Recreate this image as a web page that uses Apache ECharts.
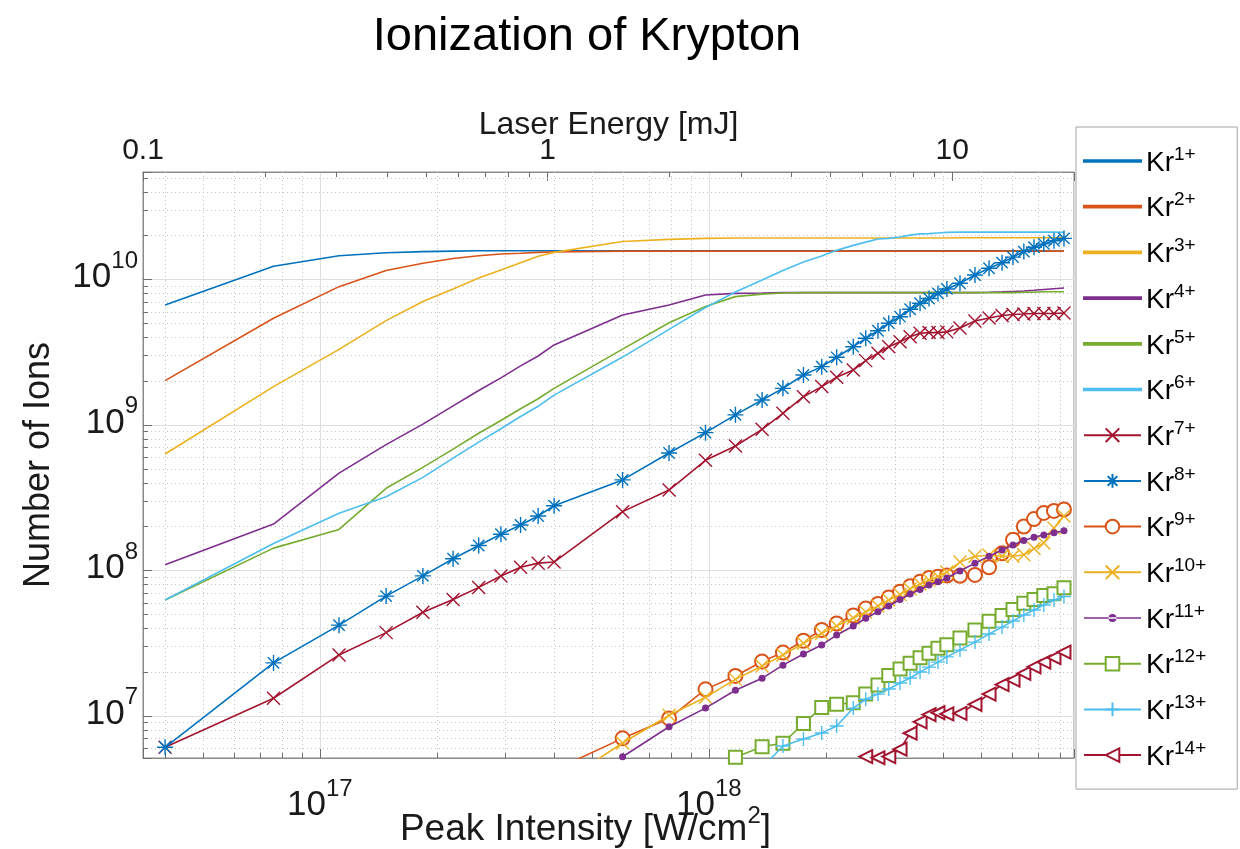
<!DOCTYPE html>
<html>
<head>
<meta charset="utf-8">
<title>Ionization of Krypton</title>
<script src="https://cdn.jsdelivr.net/npm/echarts@6/dist/echarts.min.js"></script>
<style>
  html, body { margin: 0; padding: 0; background: #fff; }
  #chart { width: 1240px; height: 849px; }
</style>
</head>
<body>
<div id="chart"></div>
<script>
// Peak intensity of each laser shot [W/cm^2]
const intensity = [
  4.0e16, 7.6e16, 1.12e17, 1.48e17, 1.84e17, 2.2e17, 2.56e17, 2.92e17, 3.28e17, 3.64e17,
  4.0e17, 6.0e17, 7.9e17, 9.8e17, 1.17e18, 1.37e18, 1.55e18, 1.75e18, 1.95e18, 2.13e18,
  2.35e18, 2.53e18, 2.72e18, 2.9e18, 3.1e18, 3.29e18, 3.49e18, 3.68e18, 3.88e18, 4.09e18,
  4.42e18, 4.83e18, 5.25e18, 5.67e18, 6.05e18, 6.45e18, 6.85e18, 7.26e18, 7.71e18, 8.18e18
];

// Ion yields per charge state (null = no ions counted)
const kr1 = [
  6.66e9, 1.23e10, 1.45e10, 1.52e10, 1.55e10, 1.56e10, 1.57e10, 1.57e10, 1.57e10, 1.57e10,
  1.57e10, 1.57e10, 1.57e10, 1.57e10, 1.57e10, 1.57e10, 1.57e10, 1.57e10, 1.57e10, 1.57e10,
  1.57e10, 1.57e10, 1.57e10, 1.57e10, 1.57e10, 1.57e10, 1.57e10, 1.57e10, 1.57e10, 1.57e10,
  1.57e10, 1.57e10, 1.57e10, 1.57e10, 1.57e10, 1.57e10, 1.57e10, 1.57e10, 1.56e10, 1.56e10
];
const kr2 = [
  2.01e9, 5.4e9, 8.9e9, 1.15e10, 1.29e10, 1.39e10, 1.45e10, 1.49e10, 1.51e10, 1.53e10,
  1.54e10, 1.56e10, 1.56e10, 1.56e10, 1.56e10, 1.56e10, 1.56e10, 1.56e10, 1.56e10, 1.56e10,
  1.56e10, 1.56e10, 1.56e10, 1.56e10, 1.56e10, 1.56e10, 1.56e10, 1.56e10, 1.56e10, 1.56e10,
  1.56e10, 1.56e10, 1.56e10, 1.56e10, 1.56e10, 1.56e10, 1.56e10, 1.56e10, 1.56e10, 1.56e10
];
const kr3 = [
  6.3e8, 1.83e9, 3.3e9, 5.2e9, 7.04e9, 8.58e9, 1.02e10, 1.16e10, 1.3e10, 1.44e10,
  1.53e10, 1.82e10, 1.88e10, 1.91e10, 1.92e10, 1.92e10, 1.92e10, 1.92e10, 1.92e10, 1.92e10,
  1.92e10, 1.92e10, 1.92e10, 1.92e10, 1.92e10, 1.92e10, 1.92e10, 1.92e10, 1.92e10, 1.92e10,
  1.93e10, 1.93e10, 1.93e10, 1.93e10, 1.93e10, 1.93e10, 1.93e10, 1.93e10, 1.93e10, 1.93e10
];
const kr4 = [
  1.09e8, 2.08e8, 4.65e8, 7.3e8, 1.01e9, 1.35e9, 1.72e9, 2.1e9, 2.54e9, 2.97e9,
  3.54e9, 5.68e9, 6.66e9, 7.8e9, 8.0e9, 8.05e9, 8.1e9, 8.1e9, 8.1e9, 8.1e9,
  8.1e9, 8.1e9, 8.1e9, 8.1e9, 8.1e9, 8.1e9, 8.1e9, 8.1e9, 8.1e9, 8.1e9,
  8.1e9, 8.1e9, 8.15e9, 8.2e9, 8.25e9, 8.3e9, 8.4e9, 8.5e9, 8.6e9, 8.7e9
];
const kr5 = [
  6.25e7, 1.42e8, 1.91e8, 3.66e8, 5.1e8, 6.8e8, 8.75e8, 1.07e9, 1.29e9, 1.51e9,
  1.78e9, 3.31e9, 5.03e9, 6.5e9, 7.6e9, 7.9e9, 8.05e9, 8.1e9, 8.1e9, 8.1e9,
  8.1e9, 8.1e9, 8.1e9, 8.1e9, 8.1e9, 8.1e9, 8.1e9, 8.1e9, 8.1e9, 8.1e9,
  8.1e9, 8.1e9, 8.1e9, 8.1e9, 8.1e9, 8.15e9, 8.15e9, 8.2e9, 8.2e9, 8.2e9
];
const kr6 = [
  6.25e7, 1.53e8, 2.47e8, 3.2e8, 4.35e8, 5.9e8, 7.6e8, 9.4e8, 1.14e9, 1.34e9,
  1.6e9, 2.92e9, 4.53e9, 6.4e9, 8.18e9, 9.89e9, 1.15e10, 1.315e10, 1.445e10, 1.58e10,
  1.71e10, 1.8e10, 1.89e10, 1.91e10, 1.95e10, 2.01e10, 2.05e10, 2.06e10, 2.08e10, 2.1e10,
  2.11e10, 2.11e10, 2.11e10, 2.11e10, 2.11e10, 2.11e10, 2.11e10, 2.11e10, 2.11e10, 2.1e10
];
const kr7 = [
  6.08e6, 1.32e7, 2.62e7, 3.73e7, 5.15e7, 6.3e7, 7.63e7, 9.15e7, 1.05e8, 1.12e8,
  1.14e8, 2.53e8, 3.56e8, 5.7e8, 7.15e8, 9.31e8, 1.2e9, 1.56e9, 1.83e9, 2.12e9,
  2.38e9, 2.76e9, 3.1e9, 3.44e9, 3.72e9, 4.03e9, 4.26e9, 4.3e9, 4.3e9, 4.35e9,
  4.63e9, 5.17e9, 5.42e9, 5.64e9, 5.73e9, 5.77e9, 5.82e9, 5.82e9, 5.82e9, 5.86e9
];
const kr8 = [
  6.08e6, 2.31e7, 4.2e7, 6.65e7, 9.15e7, 1.2e8, 1.48e8, 1.77e8, 2.05e8, 2.36e8,
  2.78e8, 4.18e8, 6.4e8, 8.83e8, 1.17e9, 1.48e9, 1.78e9, 2.2e9, 2.51e9, 2.91e9,
  3.44e9, 3.93e9, 4.43e9, 4.99e9, 5.53e9, 6.22e9, 6.84e9, 7.38e9, 7.99e9, 8.58e9,
  9.39e9, 1.07e10, 1.19e10, 1.3e10, 1.42e10, 1.55e10, 1.66e10, 1.75e10, 1.84e10, 1.91e10
];
const kr9 = [
  null, null, null, null, null, null, null, null, null, null,
  4.24e6, 7.0e6, 9.6e6, 1.52e7, 1.88e7, 2.36e7, 2.72e7, 3.28e7, 3.89e7, 4.31e7,
  4.89e7, 5.46e7, 5.87e7, 6.5e7, 7.13e7, 7.76e7, 8.35e7, 8.86e7, 9.04e7, 9.21e7,
  9.16e7, 9.29e7, 1.05e8, 1.31e8, 1.62e8, 2.0e8, 2.25e8, 2.48e8, 2.56e8, 2.62e8
];
const kr10 = [
  null, null, null, null, null, null, null, null, null, null,
  3.2e6, 6.5e6, 1.01e7, 1.34e7, 1.78e7, 2.2e7, 2.62e7, 3.15e7, 3.69e7, 4.14e7,
  4.7e7, 5.17e7, 5.68e7, 6.25e7, 6.82e7, 7.44e7, 8.05e7, 8.58e7, 9.06e7, 9.73e7,
  1.14e8, 1.25e8, 1.27e8, 1.25e8, 1.25e8, 1.28e8, 1.41e8, 1.54e8, 1.95e8, 2.36e8
];
const kr11 = [
  null, null, null, null, null, null, null, null, null, null,
  null, 5.23e6, 8.41e6, 1.13e7, 1.5e7, 1.81e7, 2.23e7, 2.66e7, 3.07e7, 3.59e7,
  4.14e7, 4.68e7, 5.19e7, 5.68e7, 6.3e7, 6.87e7, 7.38e7, 7.93e7, 8.35e7, 8.86e7,
  9.89e7, 1.12e8, 1.25e8, 1.38e8, 1.49e8, 1.6e8, 1.69e8, 1.75e8, 1.81e8, 1.87e8
];
const kr12 = [
  null, null, null, null, null, null, null, null, null, null,
  null, null, null, null, 5.2e6, 6.14e6, 6.48e6, 8.87e6, 1.14e7, 1.2e7,
  1.23e7, 1.41e7, 1.63e7, 1.89e7, 2.1e7, 2.3e7, 2.51e7, 2.69e7, 2.91e7, 3.08e7,
  3.43e7, 3.89e7, 4.46e7, 4.89e7, 5.38e7, 5.93e7, 6.3e7, 6.72e7, 6.9e7, 7.59e7
];
const kr13 = [
  null, null, null, null, null, null, null, null, null, null,
  null, null, null, null, null, 4.4e6, 6.2e6, 6.93e6, 7.62e6, 8.51e6,
  1.13e7, 1.3e7, 1.41e7, 1.53e7, 1.68e7, 1.82e7, 2.0e7, 2.16e7, 2.34e7, 2.54e7,
  2.83e7, 3.21e7, 3.65e7, 4.07e7, 4.48e7, 4.93e7, 5.33e7, 5.77e7, 6.25e7, 6.6e7
];
const kr14 = [
  null, null, null, null, null, null, null, null, null, null,
  null, null, null, null, null, null, null, null, null, null,
  null, 5.25e6, 5.15e6, 5.25e6, 5.9e6, 7.59e6, 9.1e6, 1.02e7, 1.05e7, 1.03e7,
  1.04e7, 1.2e7, 1.41e7, 1.64e7, 1.76e7, 1.96e7, 2.17e7, 2.34e7, 2.51e7, 2.74e7
];

const chargeStates = ['Kr1+', 'Kr2+', 'Kr3+', 'Kr4+', 'Kr5+', 'Kr6+', 'Kr7+',
                      'Kr8+', 'Kr9+', 'Kr10+', 'Kr11+', 'Kr12+', 'Kr13+', 'Kr14+'];
const yields = [kr1, kr2, kr3, kr4, kr5, kr6, kr7, kr8, kr9, kr10, kr11, kr12, kr13, kr14];

// Minor tick positions (2..9 x decade) on each axis
const xMinorTicks = [4e16, 5e16, 6e16, 7e16, 8e16, 9e16,
                     2e17, 3e17, 4e17, 5e17, 6e17, 7e17, 8e17, 9e17,
                     2e18, 3e18, 4e18, 5e18, 6e18, 7e18, 8e18];
const yMinorTicks = [6e6, 7e6, 8e6, 9e6,
                     2e7, 3e7, 4e7, 5e7, 6e7, 7e7, 8e7, 9e7,
                     2e8, 3e8, 4e8, 5e8, 6e8, 7e8, 8e8, 9e8,
                     2e9, 3e9, 4e9, 5e9, 6e9, 7e9, 8e9, 9e9,
                     2e10, 3e10, 4e10, 5e10];
const energyMinorTicks = [0.2, 0.3, 0.4, 0.5, 0.6, 0.7, 0.8, 0.9, 2, 3, 4, 5, 6, 7, 8, 9];

// Axis ranges
const intensityRange = [3.51e16, 8.68e18];
const energyRange = [0.1, 20];
const ionRange = [5.13e6, 5.46e10];

const FONT = '"Liberation Sans", Arial, Helvetica, sans-serif';
const INK = '#1a1a1a';

// MATLAB-style line colours and markers
const C = {
  blue: '#0072BD', orange: '#D95319', yellow: '#EDB120', purple: '#7E2F8E',
  green: '#77AC30', cyan: '#4DBEEE', red: '#A2142F'
};
const CROSS = 'path://M0,0L10,10M10,0L0,10';
const STAR = 'path://M5,0L5,10M0,5L10,5M1.46,1.46L8.54,8.54M8.54,1.46L1.46,8.54';
const PLUS = 'path://M5,0L5,10M0,5L10,5';
const LEGEND_LINE = 'path://M0,0H100V3H0Z';
const LEGEND_DOT = 'path://M0,8.2H57V9.8H0ZM24.5,9A4,4,0,1,0,32.5,9A4,4,0,1,0,24.5,9Z';

const styles = [
  { color: C.blue },
  { color: C.orange },
  { color: C.yellow },
  { color: C.purple },
  { color: C.green },
  { color: C.cyan },
  { color: C.red, symbol: CROSS, size: 13 },
  { color: C.blue, symbol: STAR, size: 16 },
  { color: C.orange, symbol: 'emptyCircle', size: 14 },
  { color: C.yellow, symbol: CROSS, size: 13 },
  { color: C.purple, symbol: 'circle', size: 7 },
  { color: C.green, symbol: 'emptyRect', size: 13 },
  { color: C.cyan, symbol: PLUS, size: 14 },
  { color: C.red, symbol: 'emptyTriangle', size: 13, rotate: 90 }
];

function isDecade(v) {
  const e = Math.log10(v);
  return Math.abs(e - Math.round(e)) < 1e-6;
}
function powerLabel(v) {
  if (!isDecade(v)) return '';
  return '{b|10}{s|' + Math.round(Math.log10(v)) + '}';
}

// "10^n" labels: base digits with a raised exponent
const powerRich = {
  b: { fontFamily: FONT, fontSize: 35, color: INK, lineHeight: 46, verticalAlign: 'bottom' },
  s: { fontFamily: FONT, fontSize: 24, color: INK, lineHeight: 24, verticalAlign: 'top' }
};

const series = chargeStates.map((name, i) => {
  const st = styles[i];
  const s = {
    name: name,
    type: 'line',
    xAxisIndex: 0,
    yAxisIndex: 0,
    data: intensity.map((x, k) => [x, yields[i][k]]),
    connectNulls: false,
    clip: true,
    z: 3 + i,
    lineStyle: { color: st.color, width: 1.6 },
    itemStyle: { color: st.color, borderColor: st.color, borderWidth: 1.4 },
    emphasis: { disabled: true },
    silent: true
  };
  if (st.symbol) {
    s.symbol = st.symbol;
    s.symbolSize = st.size;
    s.showSymbol = true;
    if (st.rotate) s.symbolRotate = st.rotate;
    if (st.symbol === 'circle') s.itemStyle.borderWidth = 0;
  } else {
    s.symbol = 'none';
    s.showSymbol = false;
  }
  return s;
});

// Dotted minor grid and inward minor ticks on the intensity axis
series.push({
  type: 'custom', name: 'xMinor', xAxisIndex: 0, yAxisIndex: 0, z: 1, silent: true,
  data: xMinorTicks.map(v => [v, 1e8]),
  renderItem: function (params, api) {
    const r = params.coordSys;
    const x = Math.round(api.coord([api.value(0), api.value(1)])[0]) + 0.5;
    return { type: 'group', children: [
      { type: 'line', shape: { x1: x, y1: r.y, x2: x, y2: r.y + r.height },
        style: { stroke: '#c4c4c4', lineWidth: 1, lineDash: [1, 3] } },
      { type: 'line', shape: { x1: x, y1: r.y + r.height, x2: x, y2: r.y + r.height - 5 },
        style: { stroke: '#6e6e6e', lineWidth: 1 } }
    ]};
  }
});
// Dotted minor grid and inward minor ticks on the ion axis
series.push({
  type: 'custom', name: 'yMinor', xAxisIndex: 0, yAxisIndex: 0, z: 1, silent: true,
  data: yMinorTicks.map(v => [1e17, v]),
  renderItem: function (params, api) {
    const r = params.coordSys;
    const y = Math.round(api.coord([api.value(0), api.value(1)])[1]) + 0.5;
    return { type: 'group', children: [
      { type: 'line', shape: { x1: r.x, y1: y, x2: r.x + r.width, y2: y },
        style: { stroke: '#c4c4c4', lineWidth: 1, lineDash: [1, 3] } },
      { type: 'line', shape: { x1: r.x, y1: y, x2: r.x + 5, y2: y },
        style: { stroke: '#6e6e6e', lineWidth: 1 } }
    ]};
  }
});
// Minor ticks on the laser-energy axis
series.push({
  type: 'custom', name: 'eMinor', xAxisIndex: 1, yAxisIndex: 0, z: 1, silent: true,
  data: energyMinorTicks.map(v => [v, 1e8]),
  renderItem: function (params, api) {
    const r = params.coordSys;
    const x = Math.round(api.coord([api.value(0), api.value(1)])[0]) + 0.5;
    return { type: 'line', shape: { x1: x, y1: r.y, x2: x, y2: r.y + 5 },
             style: { stroke: '#6e6e6e', lineWidth: 1 } };
  }
});

const option = {
  animation: false,
  backgroundColor: '#ffffff',
  title: {
    text: 'Ionization of Krypton',
    left: 582, top: 9, textAlign: 'center',
    textStyle: { fontFamily: FONT, fontSize: 47, fontWeight: 'normal', color: '#000' }
  },
  grid: {
    left: 143, right: 166, top: 172, bottom: 91,
    containLabel: false, outerBoundsMode: 'none',
    show: true, backgroundColor: '#fff', borderColor: '#8a8a8a', borderWidth: 1
  },
  legend: {
    orient: 'vertical', left: 1076, top: 127,
    padding: [18, 31, 18, 7],
    itemWidth: 57, itemHeight: 17, itemGap: 13.7,
    backgroundColor: '#fff', borderColor: '#a3a3a3', borderWidth: 1,
    selectedMode: false,
    formatter: name => '{b|Kr}{s|' + name.slice(2) + '}',
    textStyle: {
      rich: {
        b: { fontFamily: FONT, fontSize: 28, color: '#000', lineHeight: 32, verticalAlign: 'bottom' },
        s: { fontFamily: FONT, fontSize: 19, color: '#000', lineHeight: 20, verticalAlign: 'top' }
      }
    },
    data: chargeStates.map((n, i) => {
      if (i < 6) return { name: n, icon: LEGEND_LINE };
      if (n === 'Kr11+') return { name: n, icon: LEGEND_DOT };
      return { name: n };
    })
  },
  xAxis: [
    {
      type: 'log', logBase: 10, position: 'bottom',
      min: intensityRange[0], max: intensityRange[1],
      name: '{n|Peak Intensity [W/cm}{s|2}{n|]}',
      nameLocation: 'middle', nameGap: 46, nameMoveOverlap: false,
      nameTextStyle: {
        padding: [0, 46, 0, 0],
        rich: {
          n: { fontFamily: FONT, fontSize: 37, color: INK, lineHeight: 44, verticalAlign: 'bottom' },
          s: { fontFamily: FONT, fontSize: 24, color: INK, lineHeight: 26, verticalAlign: 'top' }
        }
      },
      axisLine: { show: true, lineStyle: { color: '#8a8a8a', width: 1 } },
      axisTick: { show: true, inside: true, length: 9, lineStyle: { color: '#6e6e6e' } },
      axisLabel: { margin: 19, formatter: powerLabel, rich: powerRich },
      splitLine: { show: true, lineStyle: { color: '#dedede', width: 1 } },
      minorTick: { show: false }, minorSplitLine: { show: false }
    },
    {
      type: 'log', logBase: 10, position: 'top',
      min: energyRange[0], max: energyRange[1],
      name: 'Laser Energy [mJ]',
      nameLocation: 'middle', nameGap: 31, nameMoveOverlap: false,
      nameTextStyle: { fontFamily: FONT, fontSize: 32, color: INK },
      axisLine: { show: true, lineStyle: { color: '#8a8a8a', width: 1 } },
      axisTick: { show: true, inside: true, length: 9, lineStyle: { color: '#6e6e6e' } },
      axisLabel: {
        margin: 6, fontFamily: FONT, fontSize: 30, color: INK,
        formatter: v => isDecade(v) ? (v < 1 ? v.toFixed(1) : String(Math.round(v))) : ''
      },
      splitLine: { show: false }
    }
  ],
  yAxis: [
    {
      type: 'log', logBase: 10,
      min: ionRange[0], max: ionRange[1],
      name: 'Number of Ions',
      nameLocation: 'middle', nameGap: 86, nameRotate: 90, nameMoveOverlap: false,
      nameTextStyle: { fontFamily: FONT, fontSize: 36, color: INK },
      axisLine: { show: true, lineStyle: { color: '#8a8a8a', width: 1 } },
      axisTick: { show: true, inside: true, length: 9, lineStyle: { color: '#6e6e6e' } },
      axisLabel: { margin: 5, padding: [0, 0, 14, 0], formatter: powerLabel, rich: powerRich },
      splitLine: { show: true, lineStyle: { color: '#dedede', width: 1 } }
    }
  ],
  series: series
};

const chart = echarts.init(document.getElementById('chart'), null, { renderer: 'canvas' });
chart.setOption(option);
</script>
</body>
</html>
